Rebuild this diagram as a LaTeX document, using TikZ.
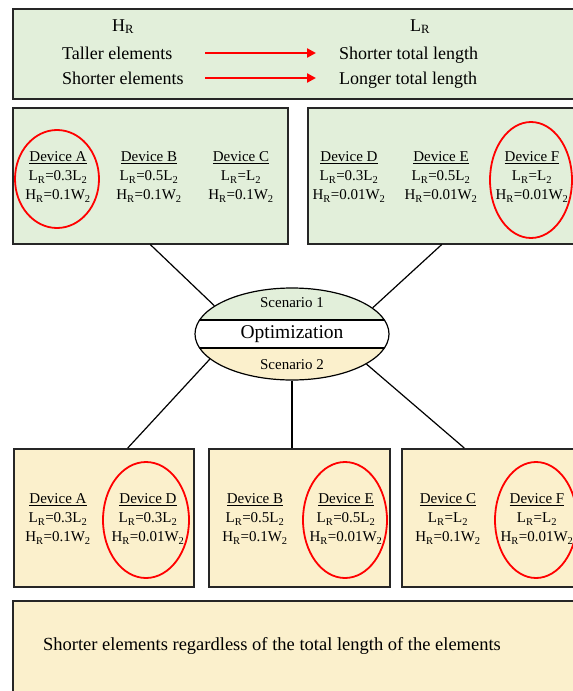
\documentclass[tikz,border=0pt]{standalone}
\usepackage{fontspec}
\setmainfont{Liberation Serif}
\usetikzlibrary{arrows.meta,shapes.geometric}

\definecolor{SceneOne}{HTML}{E2EFDA}
\definecolor{SceneTwo}{HTML}{FBF0CC}

\newcommand\DevText[4]{\underline{Device #1}\\
  L\textsubscript{R}=#2L\textsubscript{2}\\
  H\textsubscript{R}=#3W\textsubscript{2}}

\tikzset{
  PanelStyle/.style = {
    draw = black!85,
    line width = 1.5pt,
    anchor = north west,
    inner sep = 0pt},
  DevStyle/.style = {
    align = center,
    inner sep = 0pt,
    font = \rmfamily\fontsize{15}{19}\selectfont},
  RingStyle/.style = {
    ellipse,
    draw = red,
    line width = 1.8pt,
    inner sep = 0pt},
  LinkStyle/.style = {line width = 1.2pt},
  HintArrow/.style = {red, line width = 2.6pt, -{Triangle[length=9pt,width=9pt]}},
  BigText/.style = {inner sep = 0pt, font = \rmfamily\fontsize{18}{22}\selectfont}
}

\begin{document}
\begin{tikzpicture}[x=1pt,y=-1pt]
  \useasboundingbox (0,0) rectangle (573,691);
  %% panels
  \node[PanelStyle, fill=SceneOne, minimum width=570pt, minimum height=90pt] (rule) at (12,8) {};
  \node[PanelStyle, fill=SceneOne, minimum width=275pt, minimum height=136pt] (boxL) at (12,107) {};
  \node[PanelStyle, fill=SceneOne, minimum width=268pt, minimum height=136pt] (boxR) at (307,107) {};
  \node[PanelStyle, fill=SceneTwo, minimum width=180pt, minimum height=138pt] (botA) at (13,448) {};
  \node[PanelStyle, fill=SceneTwo, minimum width=181pt, minimum height=138pt] (botB) at (208,448) {};
  \node[PanelStyle, fill=SceneTwo, minimum width=179pt, minimum height=138pt] (botC) at (401,448) {};
  \node[PanelStyle, fill=SceneTwo, minimum width=570pt, minimum height=100pt] (result) at (12,600) {};

  %% rule panel
  \node[BigText, anchor=base] (hr) at (123,31) {H\textsubscript{R}};
  \node[BigText, anchor=base] (lr) at (420,31) {L\textsubscript{R}};
  \node[BigText, anchor=base west] (tall) at (62,59) {Taller elements};
  \node[BigText, anchor=base west] (short) at (62,84) {Shorter elements};
  \node[BigText, anchor=base west] (shortlen) at (339,59) {Shorter total length};
  \node[BigText, anchor=base west] (longlen) at (339,84) {Longer total length};
  \coordinate (a1) at (205,53);
  \coordinate (b1) at (316,53);
  \coordinate (a2) at (205,78);
  \coordinate (b2) at (316,78);
  \draw[HintArrow] (a1) -- (b1);
  \draw[HintArrow] (a2) -- (b2);

  %% scenario 1
  \node[DevStyle] (devA) at (58,177) {\DevText{A}{0.3}{0.1}{}};
  \node[DevStyle] (devB) at (149,177) {\DevText{B}{0.5}{0.1}{}};
  \node[DevStyle] (devC) at (241,177) {\DevText{C}{}{0.1}{}};
  \node[DevStyle] (devD) at (349,177) {\DevText{D}{0.3}{0.01}{}};
  \node[DevStyle] (devE) at (441,177) {\DevText{E}{0.5}{0.01}{}};
  \node[DevStyle] (devF) at (532,177) {\DevText{F}{}{0.01}{}};
  \node[RingStyle, minimum width=84pt, minimum height=98pt] (ringA) at (57,179) {};
  \node[RingStyle, minimum width=82pt, minimum height=116pt] (ringF) at (531,180) {};

  %% scenario 2
  \node[DevStyle] (devA2) at (58,519) {\DevText{A}{0.3}{0.1}{}};
  \node[DevStyle] (devD2) at (148,519) {\DevText{D}{0.3}{0.01}{}};
  \node[DevStyle] (devB2) at (255,519) {\DevText{B}{0.5}{0.1}{}};
  \node[DevStyle] (devE2) at (346,519) {\DevText{E}{0.5}{0.01}{}};
  \node[DevStyle] (devC2) at (448,519) {\DevText{C}{}{0.1}{}};
  \node[DevStyle] (devF2) at (537,519) {\DevText{F}{}{0.01}{}};
  \node[RingStyle, minimum width=86pt, minimum height=116pt] (ringD2) at (146,520) {};
  \node[RingStyle, minimum width=84pt, minimum height=116pt] (ringE2) at (345,520) {};
  \node[RingStyle, minimum width=82pt, minimum height=116pt] (ringF2) at (536,520) {};

  \node[BigText, font=\rmfamily\fontsize{18.5}{22}\selectfont] (summary) at (272,646)
    {Shorter elements regardless of the total length of the elements};

  %% optimization
  \node[ellipse, draw, line width=1.2pt, inner sep=0pt,
        minimum width=194pt, minimum height=92pt,
        font=\rmfamily\fontsize{19.5}{22}\selectfont,
        path picture={
          \fill[SceneOne] (path picture bounding box.north west)
            rectangle ([yshift=14pt]path picture bounding box.east);
          \fill[SceneTwo] ([yshift=-14pt]path picture bounding box.west)
            rectangle (path picture bounding box.south east);
          \draw[line width=1.2pt] ([yshift=14pt]path picture bounding box.west)
            -- ([yshift=14pt]path picture bounding box.east);
          \draw[line width=1.2pt] ([yshift=-14pt]path picture bounding box.west)
            -- ([yshift=-14pt]path picture bounding box.east);
        }] (opt) at (292,334) {Optimization};
  \node[inner sep=0pt, font=\rmfamily\fontsize{15}{18}\selectfont] (sc1) at ([yshift=31pt]opt.center) {Scenario 1};
  \node[inner sep=0pt, font=\rmfamily\fontsize{15}{18}\selectfont] (sc2) at ([yshift=-31pt]opt.center) {Scenario 2};

  \draw[LinkStyle] (boxL.south) -- (opt.160);
  \draw[LinkStyle] (boxR.south) -- (opt.18);
  \draw[LinkStyle] (opt.197) -- ([xshift=24pt]botA.north);
  \draw[LinkStyle] (opt.south) -- (opt.south |- botB.north);
  \draw[LinkStyle] (opt.338) -- ([xshift=-27pt]botC.north);
\end{tikzpicture}
\end{document}
